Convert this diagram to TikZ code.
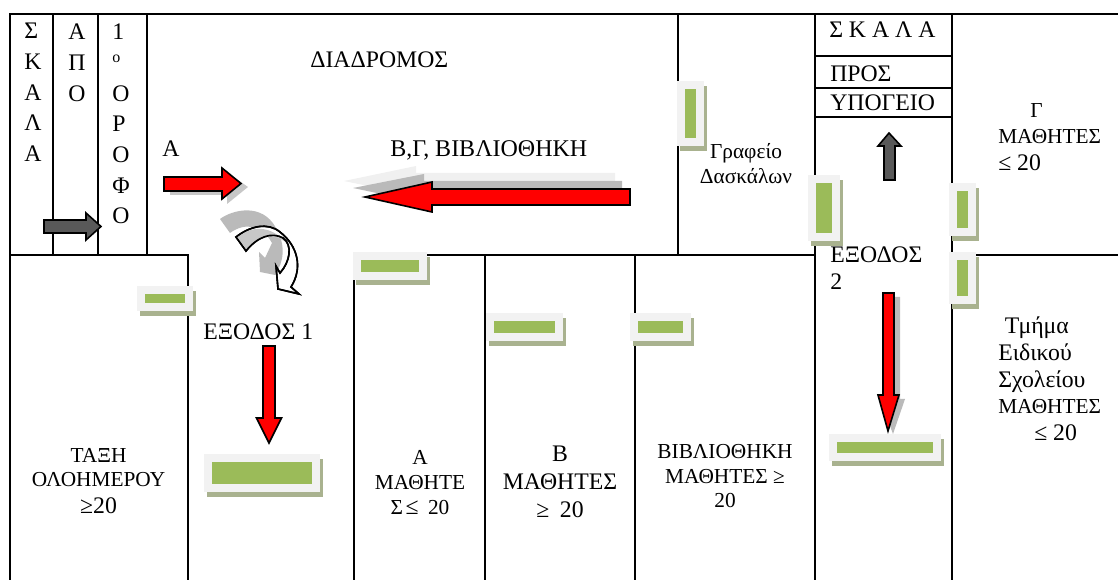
\documentclass[tikz,border=0pt]{standalone}
\usepackage{fontspec}
\setmainfont{Liberation Serif}
\usetikzlibrary{positioning}
\definecolor{wingreen}{HTML}{9BBB59}
\definecolor{winpale}{HTML}{F2F2F2}
\definecolor{winshade}{HTML}{A9B28F}
\definecolor{darkarrow}{HTML}{595959}
\newcommand{\bigsz}{\fontsize{17.8pt}{20pt}\selectfont}
\tikzstyle{wall}=[line width=1.5pt,black]
\tikzstyle{redarrow}=[draw=black,line width=1.2pt,fill=red,line join=miter]
\tikzstyle{greyarrow}=[draw=black,line width=1.2pt,fill=darkarrow,line join=miter]
\tikzstyle{bigtext}=[inner sep=0pt,align=left,font=\fontsize{17.8pt}{20pt}\selectfont]
\tikzstyle{smalltext}=[inner sep=0pt,align=center,font=\fontsize{16pt}{20pt}\selectfont]
\tikzstyle{tallcol}=[inner sep=0pt,align=left,font=\fontsize{17.8pt}{23pt}\selectfont]

\begin{document}
\begin{tikzpicture}[x=0.75pt,y=-0.75pt]
    \useasboundingbox (0,0) rectangle (1118,580);

    % WALLS

    \draw[wall] (1118,14) -- (10,14) -- (10,580);
    \draw[wall] (10,255) -- (188,255) -- (188,580);
    \draw[wall] (53,14) -- (53,255);
    \draw[wall] (98,14) -- (98,255);
    \draw[wall] (147,14) -- (147,255);
    \draw[wall] (354,580) -- (354,255) -- (815,255);
    \draw[wall] (485,255) -- (485,580);
    \draw[wall] (635,255) -- (635,580);
    \draw[wall] (678,14) -- (678,255);
    \draw[wall] (815,14) -- (815,580);
    \draw[wall] (952,14) -- (952,580);
    \draw[wall] (815,56) -- (952,56);
    \draw[wall] (815,88) -- (952,88);
    \draw[wall] (815,117) -- (952,117);
    \draw[wall] (952,255) -- (1118,255);

    % DOORS

    \foreach \xa/\ya/\xb/\yb in {137/286/193/311,353/252/427/280,486/313/563/341,
        630/313/691/341,677/81/704/146,808/175/840/241,949/183/976/236,
        949/252/976/304,204/454/320/492,829/434/941/461}{
        \fill[winshade] (\xa+3,\ya+5) rectangle (\xb+3,\yb+5);
        \fill[winpale] (\xa,\ya) rectangle (\xb,\yb);
        \fill[wingreen] (\xa+8,\ya+8) rectangle (\xb-8,\yb-8);
    }

    % ARROWS

    \fill[black!22] (170,181) -- (228,181) -- (228,173) -- (248,187) -- (227,204)
        -- (227,195) -- (170,195) -- cycle;
    \draw[redarrow] (164,177) -- (222,177) -- (222,168) -- (241,183.5) -- (222,199)
        -- (222,191) -- (164,191) -- cycle;
    \draw[greyarrow] (44,220) -- (86,220) -- (86,213) -- (101,226.5) -- (86,240)
        -- (86,233) -- (44,233) -- cycle;

    \fill[black!6] (615,173) -- (416,173) -- (416,166) -- (344,181) -- (416,196)
        -- (615,196) -- cycle;
    \fill[black!27] (622,181) -- (424,181) -- (424,174) -- (353,188) -- (424,203)
        -- (622,203) -- cycle;
    \draw[redarrow] (630,189) -- (432,189) -- (432,182) -- (365,197) -- (432,212)
        -- (432,205) -- (630,205) -- cycle;

    \draw[redarrow] (263,346) -- (275,346) -- (275,418) -- (281.5,418) -- (269,443)
        -- (256.5,418) -- (263,418) -- cycle;

    \fill[black!27] (888,297) -- (900,297) -- (900,399) -- (905,399) -- (893,434)
        -- (884,410) -- cycle;
    \draw[redarrow] (883,293) -- (894,293) -- (894,395) -- (899,395) -- (888,431)
        -- (878,395) -- (883,395) -- cycle;

    \draw[greyarrow] (884,180) -- (895,180) -- (895,146) -- (901,146) -- (889,133)
        -- (878,146) -- (884,146) -- cycle;

    % TURN

    \fill[black!27] (220,219) .. controls (232,210) and (262,202) .. (276,228)
        .. controls (286,245) and (284,262) .. (275,275) -- (260,272) -- (259,252)
        -- (265,258) -- (272,243) .. controls (262,225) and (245,222) .. (230,233) -- cycle;
    \draw[line width=1.2pt,fill=white,line join=miter] (236,237)
        .. controls (250,226) and (268,222) .. (280,232)
        .. controls (298,246) and (303,268) .. (291,287)
        -- (299,294) -- (278,289) -- (276,266) -- (280,273)
        .. controls (290,262) and (293,245) .. (283,238)
        .. controls (272,232) and (258,236) .. (246,251) -- cycle;
    \fill[black!22] (237,237.5) .. controls (250,227) and (268,223) .. (287,243)
        .. controls (272,232) and (258,236) .. (246.5,249.5) -- cycle;
    \draw[line width=1.2pt,line join=miter] (236,237)
        .. controls (250,226) and (268,222) .. (280,232)
        .. controls (298,246) and (303,268) .. (291,287)
        -- (299,294) -- (278,289) -- (276,266) -- (280,273)
        .. controls (290,262) and (293,245) .. (283,238)
        .. controls (272,232) and (258,236) .. (246,251) -- cycle;

    % LABELS

    \node[tallcol,anchor=north west] (skala1) at (24,23) {Σ\\Κ\\Α\\Λ\\Α};
    \node[tallcol,anchor=north west] (apo) at (68,24) {Α\\Π\\Ο};
    \node[tallcol,anchor=north west] (orofo) at (112,24)
        {1\\\raisebox{6pt}{\fontsize{12pt}{12pt}\selectfont ο}\\Ο\\Ρ\\Ο\\Φ\\Ο};
    \node[bigtext,anchor=base west] (corridor) at (310,68) {ΔΙΑΔΡΟΜΟΣ};
    \node[bigtext,anchor=base west] (a) at (162,157) {Α};
    \node[bigtext,anchor=base west,font=\fontsize{18pt}{20pt}\selectfont] (bgbib) at (390,157) {Β,Γ, ΒΙΒΛΙΟΘΗΚΗ};
    \node[smalltext,anchor=north] (office) at (746,143) {Γραφείο\\[-1pt]Δασκάλων};
    \node[bigtext,anchor=base west] (skala2) at (829,38) {Σ Κ Α Λ Α};
    \node[bigtext,anchor=base west] (pros) at (830,82) {ΠΡΟΣ};
    \node[bigtext,anchor=base west] (ypogeio) at (830,111) {ΥΠΟΓΕΙΟ};
    \node[bigtext,anchor=north west] (exit2) at (830,247) {ΕΞΟΔΟΣ\\2};
    \node[bigtext,anchor=base west] (exit1) at (203,340) {ΕΞΟΔΟΣ 1};
    \node[smalltext,anchor=north] (allday) at (98.5,448)
        {ΤΑΞΗ\\[-1.8pt]ΟΛΟΗΜΕΡΟΥ\\{\bigsz ≥20}};
    \node[smalltext,anchor=north] (classa) at (420,450)
        {Α\\[-1.2pt]ΜΑΘΗΤΕ\\[-1.2pt]Σ\hspace{2pt}{\bigsz ≤}\hspace{7pt}20};
    \node[bigtext,align=center,anchor=north] (classb) at (560,446)
        {Β\\[1pt]ΜΑΘΗΤΕΣ\\[1pt]≥\hspace{8pt}20};
    \node[smalltext,anchor=north] (library) at (725,444)
        {ΒΙΒΛΙΟΘΗΚΗ\\[-1.4pt]ΜΑΘΗΤΕΣ ≥\\[-2pt]20};
    \node[smalltext,align=left,anchor=north west] (classc) at (998,103)
        {\hspace*{24pt}Γ\\ΜΑΘΗΤΕΣ\\{\bigsz ≤ 20}};
    \node[smalltext,align=left,anchor=north west] (special) at (998,317)
        {{\bigsz\hspace*{5pt}Τμήμα}\\{\bigsz Ειδικού}\\{\bigsz Σχολείου}\\ΜΑΘΗΤΕΣ\\\hspace*{27pt}{\bigsz ≤ 20}};

\end{tikzpicture}
\end{document}
